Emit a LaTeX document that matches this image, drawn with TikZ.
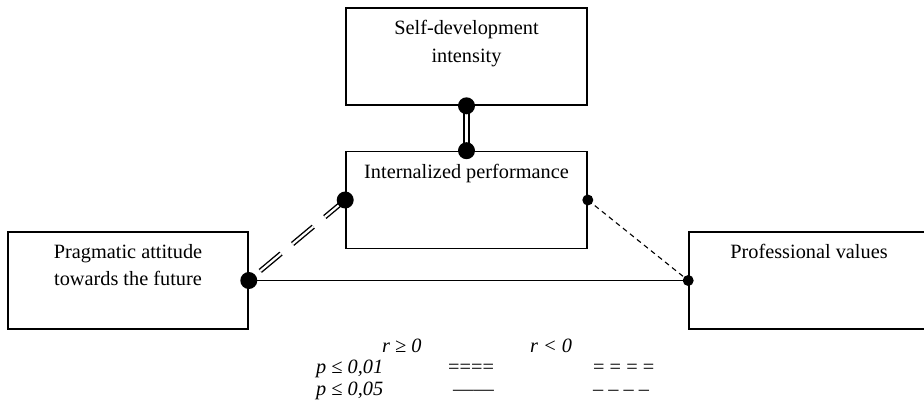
\documentclass[tikz,border=0pt]{standalone}
\usepackage{fontspec}
\setmainfont{Liberation Serif}
\def\bigdot(#1){\fill (#1) circle (8.5pt);}
\def\smalldot(#1){\fill (#1) circle (5.5pt);}
\tikzset{
	factor/.style={draw, line width=1.6pt, minimum width=241pt, minimum height=97pt, inner sep=0pt},
	factortext/.style={anchor=north, align=center, inner sep=0pt, yshift=-13pt, font=\fontsize{20.3}{27.5}\selectfont},
	legend/.style={anchor=base west, inner sep=0pt, font=\fontsize{20.3}{24}\selectfont},
}

\begin{document}
\begin{tikzpicture}[x=1pt, y=-1pt]
		%%%%% START %%%%%
		\useasboundingbox (0, 0) rectangle (924, 404);
		
		\node[factor, label={[factortext]north:{Self-development\\intensity}}] (selfdev) at (466.5, 56.5) {};
		\node[factor, label={[factortext]north:{Internalized performance}}] (intern) at (466.5, 200) {};
		\node[factor, minimum width=240pt, label={[factortext]north:{Pragmatic attitude\\towards the future}}] (pragm) at (128, 280.5) {};
		\node[factor, minimum width=240pt, label={[factortext]north:{Professional values}}] (prof) at (809, 280.5) {};
		
		\draw[line width=1.3pt, double, double distance=3.5pt] (selfdev.south) -- (intern.north);
		\draw[line width=1.4pt, double, double distance=2.2pt, dash pattern=on 27pt off 15pt, dash phase=27pt] (pragm.east) -- (intern.west);
		\draw[line width=1.3pt] (pragm.east) -- (prof.west);
		\draw[line width=1.1pt, dash pattern=on 5pt off 4pt] (intern.east) -- (prof.west);
		
		\bigdot(selfdev.south)
		\bigdot(intern.north)
		\bigdot(intern.west)
		\bigdot(pragm.east)
		\smalldot(intern.east)
		\smalldot(prof.west)
		
		% legend
		\node[legend] (rpos) at (382, 352) {\itshape r ≥ 0};
		\node[legend] (rneg) at (530, 352) {\itshape r < 0};
		\node[legend] (pone) at (316, 373) {\itshape p ≤ 0,01};
		\node[legend] (pfive) at (316, 395) {\itshape p ≤ 0,05};
		\node[legend] (strongpos) at (448, 373) {====};
		\node[legend] (strongneg) at (593, 373) {= = = =};
		\node[legend] (weakpos) at (453, 395) {——};
		\node[legend] (weakneg) at (593, 395) {– – – –};
		
		%%%%% END %%%%%
\end{tikzpicture}
\end{document}
